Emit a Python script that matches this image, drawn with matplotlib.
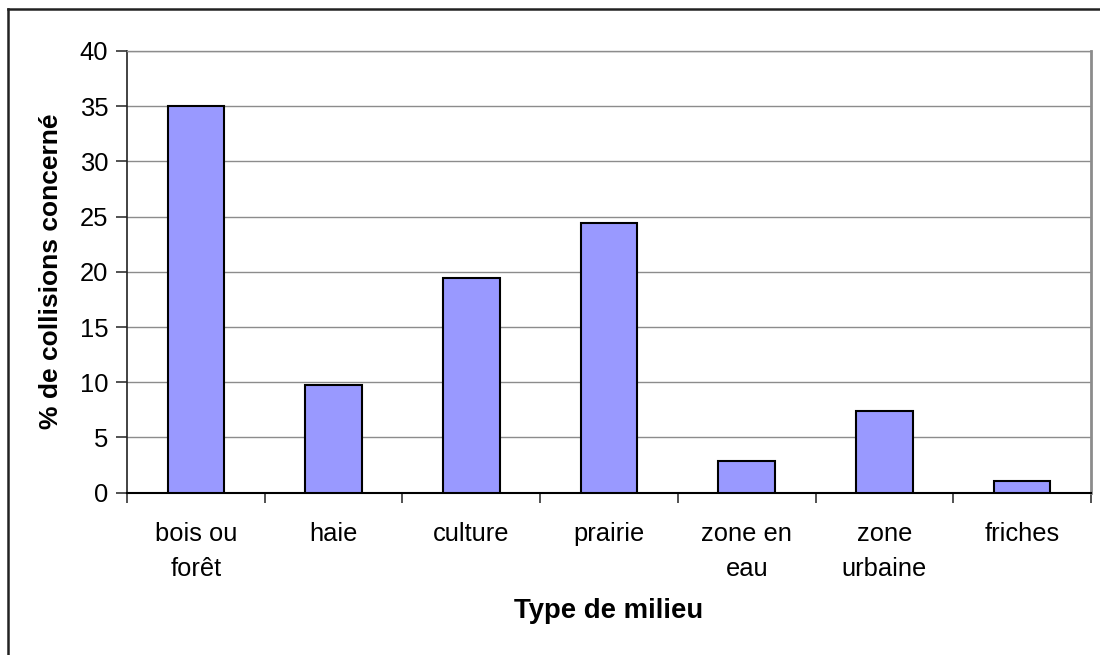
import matplotlib
matplotlib.use("Agg")
import matplotlib.pyplot as plt
from matplotlib.lines import Line2D

categories = ["bois ou\nforêt", "haie", "culture", "prairie", "zone en\neau", "zone\nurbaine", "friches"]
values = [35.0, 9.75, 19.4, 24.4, 2.9, 7.4, 1.05]
yticks = [0, 5, 10, 15, 20, 25, 30, 35, 40]

plt.rcParams['font.family'] = ['Liberation Sans', 'DejaVu Sans']

W, H = 1100, 655
fig = plt.figure(figsize=(W / 100, H / 100), dpi=100)
ax = fig.add_axes([127 / W, 1 - 492.7 / H, (1091 - 127) / W, (492.7 - 51) / H])

x = list(range(len(categories)))
ax.bar(x, values, width=0.41, color='#9999FF', edgecolor='black', linewidth=1.5, zorder=3)

ax.set_xlim(-0.5, len(categories) - 0.5)
ax.set_ylim(0, 40)
ax.set_yticks(yticks)
ax.set_yticklabels([str(v) for v in yticks], fontsize=18.4)
ax.yaxis.grid(True, color='#8c8c8c', linewidth=1.0, zorder=0)
ax.set_axisbelow(True)

ax.set_xticks(x)
ax.set_xticklabels(categories, fontsize=18.4, linespacing=1.56)
ax.set_xticks([i - 0.5 for i in range(len(categories) + 1)], minor=True)
ax.tick_params(axis='x', which='major', length=0, pad=21)
ax.tick_params(axis='x', which='minor', length=7, width=1.2, direction='out', color='#333333')
ax.tick_params(axis='y', which='major', length=8, width=1.2, direction='out', color='#333333', pad=5.5)

ax.spines['left'].set_color('#222222')
ax.spines['left'].set_linewidth(1.2)
ax.spines['bottom'].set_color('black')
ax.spines['bottom'].set_linewidth(1.5)
ax.spines['right'].set_color('#8c8c8c')
ax.spines['right'].set_linewidth(2.0)
ax.spines['top'].set_color('#8c8c8c')
ax.spines['top'].set_linewidth(1.0)

fig.text(51 / W, 1 - 271 / H, "% de collisions concerné", rotation=90, fontsize=19,
         fontweight='bold', ha='center', va='center')
fig.text(609 / W, 1 - 618 / H, "Type de milieu", fontsize=19.8, fontweight='bold',
         ha='center', va='baseline')

# outer chart border (extends beyond image on right and bottom)
fig.add_artist(Line2D([8 / W, 1.05], [1 - 9 / H, 1 - 9 / H], transform=fig.transFigure,
                      color='#222222', linewidth=1.8))
fig.add_artist(Line2D([8 / W, 8 / W], [1 - 9 / H, -0.05], transform=fig.transFigure,
                      color='#222222', linewidth=1.8))

fig.savefig("out.png", dpi=100, facecolor='white')
